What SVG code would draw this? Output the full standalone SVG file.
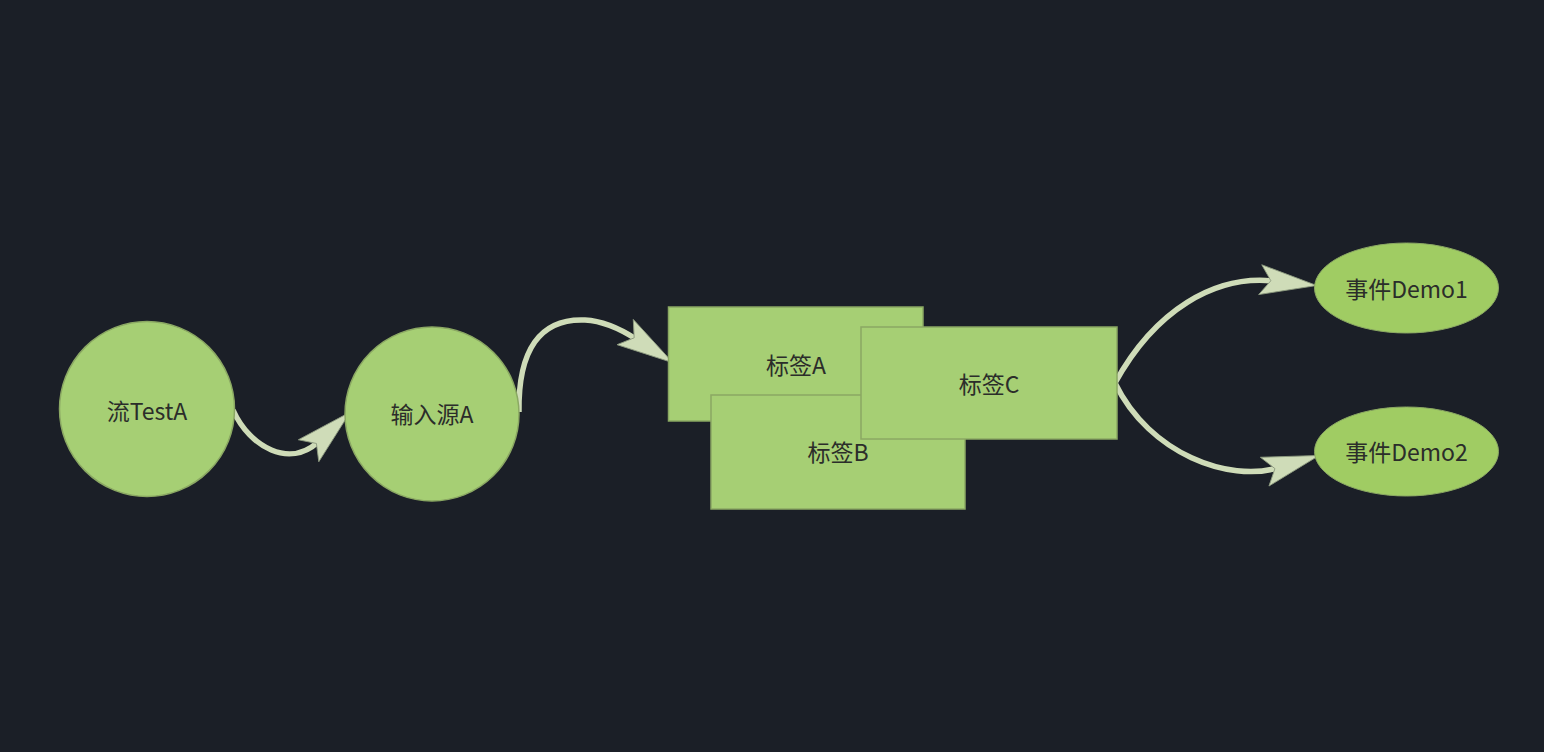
<svg xmlns="http://www.w3.org/2000/svg" width="1544" height="752" viewBox="0 0 1544 752">
<style>
.bg{fill:#1b1f27}
.node{fill:#a6cf74;stroke:#8ba863;stroke-width:1.5}
.ev{fill:#a0cc63;stroke:#8ba863;stroke-width:1}
.lbl{font-family:"Noto Sans CJK SC","Noto Sans",sans-serif;font-size:23px;fill:#2b2d2a;text-anchor:middle;dominant-baseline:central}
.edge{fill:none;stroke:#cfdcb8;stroke-width:5.5}
</style>
<defs>
<marker id="ah" markerUnits="userSpaceOnUse" markerWidth="60" markerHeight="40" viewBox="-2 -16 56 32" refX="0" refY="0" orient="auto" overflow="visible">
<path d="M-2,0 L-12,-14 L41,0 L-12,14 Z" fill="#cfdcb8" stroke="#8d9a80" stroke-width="0.8"/>
</marker>
</defs>
<rect class="bg" x="0" y="0" width="1544" height="752"/>
<g id="connectors">
<path class="edge" d="M233,410 C250,448 290,468 318,442" marker-end="url(#ah)"/>
<path class="edge" d="M519,412 C518,350 540,318 585,320 C605,321 622,330 636,339" marker-end="url(#ah)"/>
<path class="edge" d="M1115,383 C1155,310 1215,275 1273,281" marker-end="url(#ah)"/>
<path class="edge" d="M1115,383 C1150,455 1230,482 1277,468" marker-end="url(#ah)"/>
</g>
<g id="n-stream">
<circle class="node" cx="147" cy="409" r="87.5"/>
<text class="lbl" x="147" y="410">流TestA</text>
</g>
<g id="n-input">
<circle class="node" cx="432" cy="414" r="87"/>
<text class="lbl" x="432" y="413">输入源A</text>
</g>
<g id="n-tagA">
<rect class="node" x="668.5" y="307" width="254.5" height="114"/>
<text class="lbl" x="796" y="364">标签A</text>
</g>
<g id="n-tagB">
<rect class="node" x="711" y="395" width="254" height="114"/>
<text class="lbl" x="838" y="451">标签B</text>
</g>
<g id="n-tagC">
<rect class="node" x="861" y="327" width="256" height="112"/>
<text class="lbl" x="989" y="383">标签C</text>
</g>
<g id="n-demo1">
<ellipse class="ev" cx="1406.5" cy="288" rx="92" ry="45"/>
<text class="lbl" x="1406.5" y="288">事件Demo1</text>
</g>
<g id="n-demo2">
<ellipse class="ev" cx="1406.5" cy="451.5" rx="92" ry="44.5"/>
<text class="lbl" x="1406.5" y="451">事件Demo2</text>
</g>
</svg>
